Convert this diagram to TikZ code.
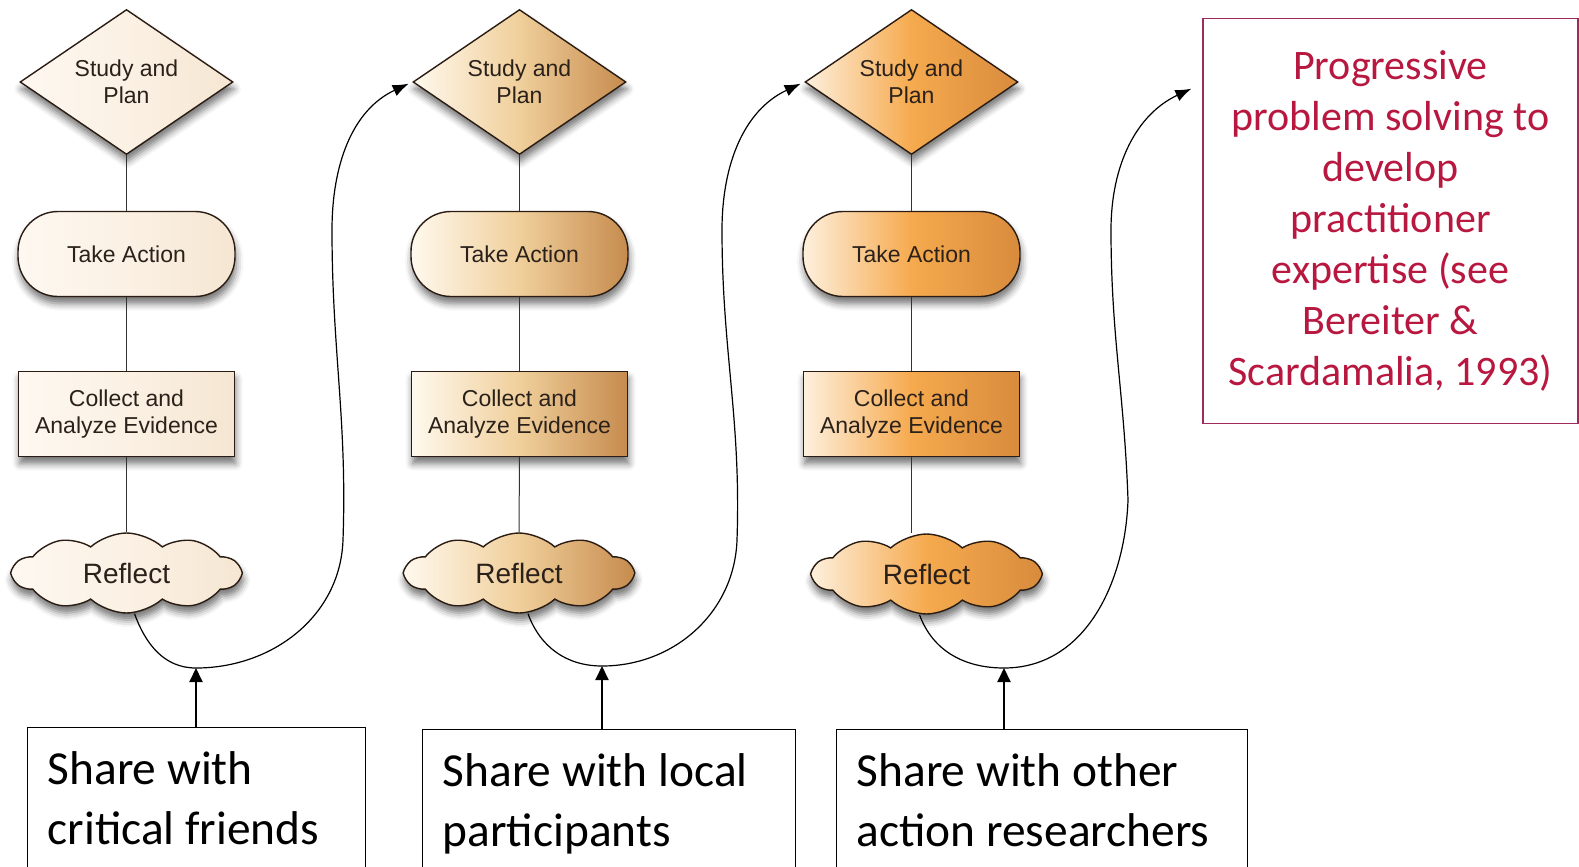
\documentclass[tikz,border=0pt]{standalone}
\usepackage{fontspec}
\newfontfamily\flowfont{Liberation Sans}
\newfontfamily\notefont{Carlito}
\usetikzlibrary{shapes.geometric,shapes.symbols,shadows.blur,arrows.meta}
\definecolor{flowtext}{HTML}{2B211B}
\definecolor{edgecol}{HTML}{2A1C12}
\definecolor{linkcol}{HTML}{333333}
\definecolor{notetext}{HTML}{B8173F}
\definecolor{noteedge}{HTML}{9E2A5E}
\definecolor{oneL}{HTML}{FDF8F1}
\definecolor{oneM}{HTML}{FBF1E4}
\definecolor{oneR}{HTML}{F5E6D2}
\definecolor{twoL}{HTML}{FFF9EE}
\definecolor{twoM}{HTML}{F0CF9B}
\definecolor{twoR}{HTML}{C68B4E}
\definecolor{threeL}{HTML}{FDF0DE}
\definecolor{threeM}{HTML}{F6AA4E}
\definecolor{threeR}{HTML}{D88B3C}
\begin{document}
\begin{tikzpicture}[x=0.5pt,y=0.5pt,
    every node/.style={font=\flowfont\fontsize{11.5}{13.5}\selectfont, text=flowtext},
    outline/.style={draw=edgecol, line width=0.7pt,
        blur shadow={shadow xshift=0.6pt, shadow yshift=-3.5pt, shadow blur radius=3.5pt, shadow opacity=55}},
    planbox/.style={outline, diamond, aspect=1.47, minimum width=106.5pt, minimum height=72.5pt, inner sep=0pt, align=center},
    actbox/.style={outline, rectangle, rounded corners=20pt, minimum width=108.5pt, minimum height=42.5pt},
    evidbox/.style={outline, rectangle, minimum width=108pt, minimum height=42.5pt, align=center},
    reflbox/.style={outline, cloud, cloud puffs=10, cloud puff arc=85, aspect=2.8, minimum width=113.5pt,
        minimum height=40pt, inner sep=0pt, font=\flowfont\fontsize{14}{16}\selectfont},
    colone/.style={left color=oneL, right color=oneR, middle color=oneM},
    coltwo/.style={left color=twoL, right color=twoR, middle color=twoM},
    colthree/.style={left color=threeL, right color=threeR, middle color=threeM},
    link/.style={draw=linkcol, line width=0.5pt},
    flow/.style={draw=black, line width=0.6pt, -{Latex[length=8pt,width=6pt]}, shorten >=2pt},
    sharebox/.style={draw=black, line width=0.7pt, anchor=north west, align=flush left, inner xsep=10pt, inner ysep=12pt,
        font=\notefont\fontsize{23.7}{30}\selectfont, text=black},
    share/.style={line width=1pt, -{Triangle[length=7pt,width=6.5pt]}},
    notebox/.style={draw=noteedge, line width=0.8pt, minimum width=187.5pt, minimum height=202.5pt, align=center,
        font=\notefont\fontsize{21}{25.5}\selectfont, text=notetext}]
    \useasboundingbox (0,0) rectangle (1579,-867);
    \clip (0,0) rectangle (1579,-867);

    \node[planbox, colone] (plan1) at (126.5,-82) {Study and\\Plan};
    \node[actbox, colone] (act1) at (126.5,-254) {Take Action};
    \node[evidbox, colone] (evid1) at (126.5,-414) {Collect and\\Analyze Evidence};
    \node[reflbox, colone] (refl1) at (126.5,-573) {Reflect};

    \node[planbox, coltwo] (plan2) at (519.5,-82) {Study and\\Plan};
    \node[actbox, coltwo] (act2) at (519.5,-254) {Take Action};
    \node[evidbox, coltwo] (evid2) at (519.5,-414) {Collect and\\Analyze Evidence};
    \node[reflbox, coltwo] (refl2) at (519,-573) {Reflect};

    \node[planbox, colthree] (plan3) at (911.5,-82) {Study and\\Plan};
    \node[actbox, colthree] (act3) at (911.5,-254) {Take Action};
    \node[evidbox, colthree] (evid3) at (911.5,-414) {Collect and\\Analyze Evidence};
    \node[reflbox, colthree] (refl3) at (926.5,-574) {Reflect};

    \node[notebox] (note) at (1390.5,-221) {Progressive\\problem solving to\\develop\\practitioner\\expertise (see\\Bereiter \&\\Scardamalia, 1993)};

    \node[sharebox, text width=149pt] (share1) at (27,-727) {Share with\\critical friends};
    \node[sharebox, text width=166.5pt] (share2) at (422,-729) {Share with local\\participants};
    \node[sharebox, text width=185.5pt] (share3) at (836,-729) {Share with other\\action researchers};

    \coordinate (dip1) at (196,-668);
    \coordinate (dip2) at (602,-666);
    \coordinate (dip3) at (1004,-668);
    \coordinate (tip3) at (1195,-87);

    \draw[link] (plan1) -- (act1);
    \draw[link] (act1) -- (evid1);
    \draw[link] (evid1) -- (refl1);
    \draw[link] (plan2) -- (act2);
    \draw[link] (act2) -- (evid2);
    \draw[link] (evid2) -- (refl2);
    \draw[link] (plan3) -- (act3);
    \draw[link] (act3) -- (evid3);
    \draw[link] (evid3) -- (evid3 |- refl3.north);

    \draw[flow] ([xshift=4pt]refl1.south) to[out=-70,in=180] (dip1) to[out=0,in=-92] (343,-540)
        to[out=88,in=-90] (332,-230) to[out=90,in=205] (plan2.west);
    \draw[flow] ([xshift=4.5pt]refl2.south) to[out=-70,in=180] (dip2) to[out=0,in=-92] (737,-540)
        to[out=88,in=-90] (722,-230) to[out=90,in=205] (plan3.west);
    \draw[flow] ([xshift=-3.5pt]refl3.south) to[out=-70,in=180] (dip3) to[out=0,in=-92] (1128,-500)
        to[out=92,in=-90] (1111,-230) to[out=90,in=205] (tip3);

    \draw[share] (share1.north -| dip1) -- (dip1);
    \draw[share] (share2.north -| dip2) -- (dip2);
    \draw[share] (share3.north -| dip3) -- (dip3);
\end{tikzpicture}
\end{document}
